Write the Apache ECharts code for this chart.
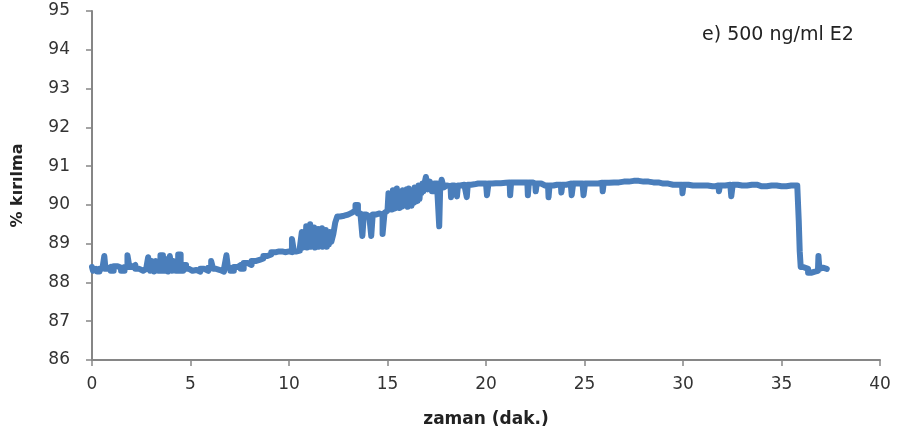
<!DOCTYPE html>
<html>
<head>
<meta charset="utf-8">
<script src="https://cdn.jsdelivr.net/npm/echarts@6/dist/echarts.min.js"></script>
<style>html,body{margin:0;padding:0;background:#fff;}#c{width:906px;height:439px;}</style>
</head>
<body>
<div id="c"></div>
<script>
const chartTitle = "e) 500 ng/ml E2";
const xName = "zaman (dak.)";
const yName = "% kırılma";
const xTicks = [0, 5, 10, 15, 20, 25, 30, 35, 40];
const yTicks = [86, 87, 88, 89, 90, 91, 92, 93, 94, 95];

const times = [
 0.0,0.1,0.2,0.3,0.45,0.6,0.65,0.72,0.9,1.0,1.2,1.4,1.55,1.75,1.85,1.95,2.1,2.3,2.5,2.7,
 2.8,2.9,3.0,3.1,3.2,3.3,3.4,3.55,3.65,3.8,3.9,4.0,4.1,4.2,4.3,4.45,4.55,4.7,4.85,5.0,
 5.2,5.4,5.6,5.8,6.0,6.1,6.2,6.4,6.6,6.8,6.85,6.95,7.1,7.3,7.5,7.6,7.8,8.0,8.2,8.4,
 8.6,8.8,9.0,9.2,9.5,9.8,10.0,10.1,10.2,10.3,10.5,10.6,
 10.70,10.75,10.80,10.85,10.90,10.95,11.00,11.05,11.10,11.15,11.20,11.25,11.30,11.35,11.40,
 11.45,11.50,11.55,11.60,11.65,11.70,11.75,11.80,11.85,11.90,11.95,12.00,12.05,12.10,
 12.2,12.3,12.4,
 12.5,12.7,12.9,13.1,13.3,13.45,13.55,13.7,13.75,13.85,14.0,14.15,14.2,14.3,14.5,14.7,14.8,14.9,15.0,
 15.10,15.15,15.20,15.25,15.30,15.35,15.40,15.45,15.50,15.55,15.60,15.65,15.70,15.75,15.80,15.85,15.90,15.95,
 16.00,16.05,16.10,16.15,16.20,16.25,16.30,16.35,16.40,16.45,16.50,16.55,16.60,16.65,16.70,16.75,16.80,16.85,16.90,
 17.0,17.1,17.2,17.3,17.45,17.6,17.65,17.7,17.8,17.9,18.0,18.2,18.25,18.3,18.5,18.55,18.6,18.8,
 19.0,19.05,19.1,19.4,19.6,20.0,20.1,20.15,20.5,21.0,21.2,21.25,21.3,21.8,22.1,22.15,22.2,22.5,22.55,22.6,
 23.0,23.15,23.2,23.25,23.6,23.8,23.85,23.9,24.3,24.4,24.45,24.9,25.0,25.05,25.5,25.9,25.95,26.0,
 26.5,27.0,27.5,28.0,28.5,29.0,29.5,29.95,30.0,30.05,30.5,31.0,31.5,31.8,31.85,31.9,32.4,32.5,32.55,
 33.0,33.5,34.0,34.5,35.0,35.5,35.8,35.85,35.9,35.95,36.0,36.2,36.5,36.7,36.85,36.9,36.95,37.1,37.3
];
const values = [
 88.40,88.30,88.35,88.28,88.35,88.32,88.68,88.35,88.40,88.30,88.42,88.38,88.30,88.40,88.70,88.40,88.45,88.35,88.30,88.35,
 88.30,88.65,88.30,88.55,88.28,88.55,88.30,88.70,88.30,88.60,88.28,88.68,88.30,88.55,88.30,88.72,88.30,88.45,88.35,88.30,
 88.32,88.28,88.35,88.30,88.38,88.55,88.35,88.32,88.28,88.35,88.70,88.38,88.30,88.40,88.45,88.35,88.50,88.45,88.55,88.58,
 88.62,88.68,88.72,88.78,88.80,88.78,88.80,88.78,89.12,88.80,88.82,88.90,
 89.30,88.90,89.20,88.92,89.45,88.90,89.40,88.95,89.50,88.92,89.35,88.95,89.42,88.90,89.30,
 88.95,89.38,88.92,89.30,88.95,89.40,88.92,89.30,88.95,89.35,88.92,89.28,88.98,89.30,
 89.05,89.25,89.55,
 89.70,89.72,89.75,89.80,89.85,90.00,89.78,89.75,89.20,89.75,89.70,89.72,89.20,89.75,89.78,89.75,89.25,89.80,89.85,
 90.30,89.90,90.25,89.88,90.38,89.90,90.30,89.92,90.42,89.95,90.35,89.92,90.30,89.95,90.38,89.98,90.35,90.00,
 90.40,89.95,90.42,90.00,90.35,89.98,90.38,90.05,90.45,90.08,90.45,90.10,90.50,90.15,90.50,90.30,90.55,90.35,90.55,
 90.72,90.40,90.60,90.35,90.55,90.40,89.45,90.45,90.65,90.45,90.50,90.48,90.20,90.50,90.50,90.22,90.50,90.52,
 90.52,90.20,90.52,90.53,90.55,90.55,90.25,90.55,90.56,90.57,90.58,90.25,90.58,90.58,90.58,90.25,90.58,90.55,90.35,90.55,
 90.50,90.50,90.20,90.50,90.52,90.52,90.32,90.52,90.55,90.25,90.55,90.55,90.25,90.55,90.55,90.57,90.35,90.57,
 90.58,90.60,90.62,90.60,90.58,90.55,90.52,90.52,90.30,90.52,90.50,90.50,90.48,90.50,90.35,90.50,90.52,90.22,90.52,
 90.50,90.52,90.48,90.50,90.48,90.50,90.50,90.45,89.60,88.80,88.40,88.35,88.25,88.28,88.30,88.68,88.35,88.38,88.35
];

const seriesData = times.map((t, i) => [t, values[i]]);
const axisGray = '#868686';
const textColor = '#333333';

const chart = echarts.init(document.getElementById('c'), null, {renderer: 'canvas'});
chart.setOption({
  animation: false,
  backgroundColor: '#ffffff',
  title: {
    text: chartTitle,
    left: 697, top: 21,
    textStyle: {fontFamily: 'DejaVu Sans', fontSize: 19, fontWeight: 'normal', color: '#222'}
  },
  grid: {left: 92, right: 26, top: 11, bottom: 79},
  xAxis: {
    type: 'value', min: xTicks[0], max: xTicks[xTicks.length - 1], interval: 5,
    name: xName, nameLocation: 'middle', nameGap: 51,
    nameTextStyle: {fontFamily: 'DejaVu Sans', fontSize: 17, fontWeight: 'bold', color: '#222'},
    axisLine: {show: true, lineStyle: {color: axisGray, width: 2}},
    axisTick: {show: true, length: 6, lineStyle: {color: axisGray, width: 1.5}},
    axisLabel: {margin: 16, fontFamily: 'DejaVu Sans', fontSize: 17, color: textColor},
    splitLine: {show: false}
  },
  yAxis: {
    type: 'value', min: yTicks[0], max: yTicks[yTicks.length - 1], interval: 1,
    name: yName, nameLocation: 'middle', nameGap: 66, nameRotate: 90,
    nameTextStyle: {fontFamily: 'DejaVu Sans', fontSize: 16, fontWeight: 'bold', color: '#222'},
    axisLine: {show: true, lineStyle: {color: axisGray, width: 2}},
    axisTick: {show: true, length: 6, lineStyle: {color: axisGray, width: 1.5}},
    axisLabel: {margin: 22, fontFamily: 'DejaVu Sans', fontSize: 17, color: textColor},
    splitLine: {show: false}
  },
  series: [{
    type: 'line',
    data: seriesData,
    step: 'middle',
    showSymbol: false,
    lineStyle: {color: '#4a7ebb', width: 6, join: 'round', cap: 'round'},
    itemStyle: {color: '#4a7ebb'}
  }]
});
</script>
</body>
</html>
